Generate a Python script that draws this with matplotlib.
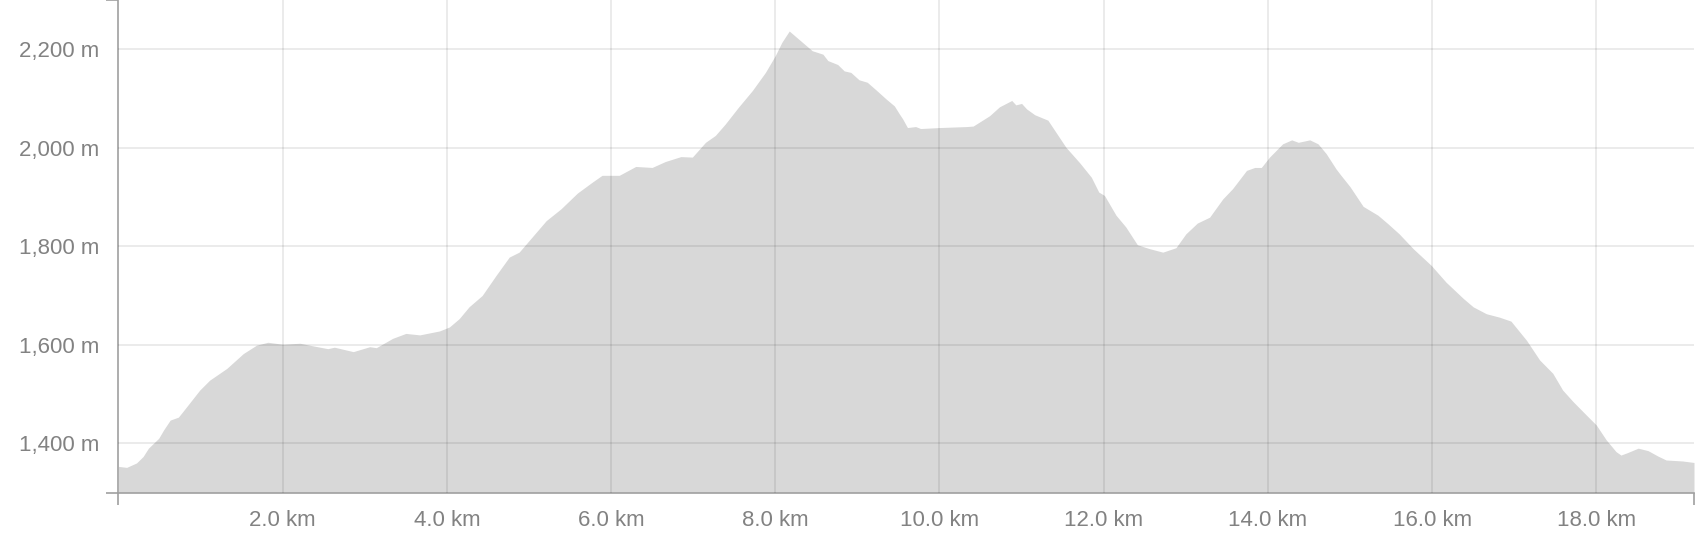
import matplotlib
matplotlib.use('Agg')
import matplotlib.pyplot as plt
from matplotlib.ticker import FixedLocator, FuncFormatter

# elevation profile (km, m)
distance_km = [0.00, 0.10, 0.22, 0.30, 0.365, 0.49, 0.55, 0.63, 0.73, 0.83, 0.99, 1.11, 1.32, 1.52, 1.68, 1.82,
               2.00, 2.21, 2.33, 2.55, 2.63, 2.86, 3.06, 3.14, 3.34, 3.50, 3.67, 3.91, 4.03, 4.15, 4.27, 4.43,
               4.60, 4.76, 4.88, 5.04, 5.21, 5.39, 5.59, 5.77, 5.89, 6.10, 6.30, 6.50, 6.66, 6.85, 6.99, 7.15,
               7.27, 7.39, 7.55, 7.72, 7.88, 8.00, 8.08, 8.17, 8.31, 8.45, 8.58, 8.64, 8.76, 8.84, 8.92, 9.02,
               9.12, 9.23, 9.35, 9.45, 9.51, 9.55, 9.61, 9.71, 9.77, 10.00, 10.33, 10.41, 10.61, 10.73, 10.88,
               10.93, 11.00, 11.06, 11.16, 11.32, 11.54, 11.71, 11.85, 11.94, 12.01, 12.15, 12.27, 12.41, 12.56,
               12.72, 12.88, 13.00, 13.14, 13.29, 13.45, 13.57, 13.74, 13.84, 13.92, 14.02, 14.18, 14.29, 14.37,
               14.51, 14.61, 14.71, 14.83, 14.89, 15.00, 15.16, 15.34, 15.46, 15.60, 15.77, 15.99, 16.17, 16.38,
               16.50, 16.66, 16.82, 16.96, 17.15, 17.31, 17.47, 17.59, 17.72, 17.88, 18.00, 18.12, 18.24, 18.30,
               18.38, 18.51, 18.63, 18.75, 18.85, 19.05, 19.19]
elevation_m = [1353, 1351, 1360, 1373, 1390, 1410, 1427, 1447, 1453, 1474, 1508, 1528, 1552, 1582, 1599, 1605,
               1601, 1603, 1599, 1592, 1595, 1586, 1596, 1594, 1613, 1623, 1620, 1628, 1636, 1653, 1677, 1700,
               1741, 1778, 1788, 1819, 1852, 1876, 1908, 1930, 1944, 1944, 1962, 1960, 1972, 1982, 1981, 2011,
               2025, 2048, 2082, 2116, 2153, 2187, 2214, 2237, 2217, 2197, 2190, 2177, 2169, 2156, 2153, 2138,
               2133, 2117, 2099, 2085, 2069, 2059, 2041, 2043, 2039, 2041, 2043, 2044, 2065, 2083, 2096,
               2087, 2090, 2079, 2067, 2056, 2001, 1969, 1940, 1910, 1903, 1863, 1839, 1803, 1795,
               1788, 1797, 1825, 1847, 1859, 1896, 1917, 1954, 1960, 1960, 1981, 2008, 2016, 2011,
               2016, 2008, 1988, 1957, 1944, 1921, 1881, 1863, 1846, 1825, 1795, 1761, 1727, 1694,
               1677, 1663, 1656, 1648, 1609, 1569, 1542, 1508, 1484, 1457, 1437, 1407, 1383, 1376,
               1381, 1390, 1385, 1374, 1366, 1364, 1361]

x_ticks = [2, 4, 6, 8, 10, 12, 14, 16, 18]
y_ticks = [1400, 1600, 1800, 2000, 2200]
x_range = (0, 19.19)
y_range = (1300, 2300)

plt.rcParams['font.family'] = ['Liberation Sans', 'DejaVu Sans']

fig = plt.figure(figsize=(17, 5.48), dpi=100)
ax = fig.add_axes([118.45 / 1700, 55.5 / 548, (1694 - 118.45) / 1700, 1 - 55.5 / 548])

ax.fill_between(distance_km, elevation_m, y_range[0], color='#d8d8d8', lw=0, zorder=1)

ax.set_xlim(*x_range)
ax.set_ylim(*y_range)

spine_col = '#a0a0a0'
for side in ['top', 'right']:
    ax.spines[side].set_visible(False)
for side in ['left', 'bottom']:
    ax.spines[side].set_color(spine_col)
    ax.spines[side].set_linewidth(1.2)

ax.xaxis.set_major_locator(FixedLocator(x_ticks))
ax.yaxis.set_major_locator(FixedLocator(y_ticks))
ax.xaxis.set_minor_locator(FixedLocator(list(x_range)))
ax.yaxis.set_minor_locator(FixedLocator(list(y_range)))
ax.xaxis.set_major_formatter(FuncFormatter(lambda v, p: f'{v:.1f} km'))
ax.yaxis.set_major_formatter(FuncFormatter(lambda v, p: f'{v:,.0f} m'))

ax.tick_params(which='major', length=0, labelsize=16, labelcolor='#828282')
ax.tick_params(axis='y', which='major', pad=13.5)
ax.tick_params(axis='x', which='major', pad=12.8)
ax.tick_params(which='minor', length=8.3, width=1.2, color=spine_col)

ax.set_axisbelow(False)
ax.grid(True, which='major', color='black', alpha=0.08, lw=1.4)

plt.savefig('out.png', dpi=100)
